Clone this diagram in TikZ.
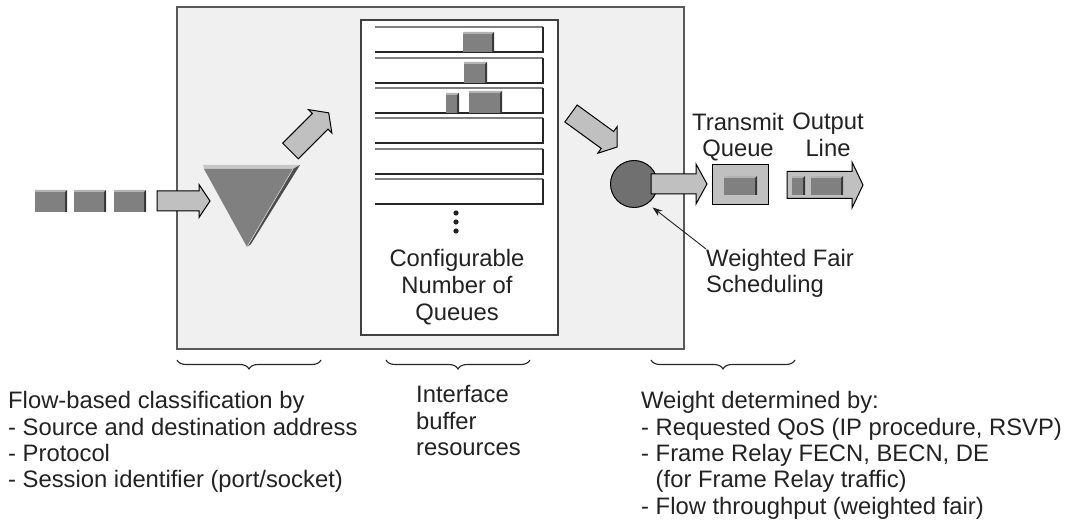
\documentclass[tikz,border=0pt]{standalone}
\usepackage{fontspec}
\setmainfont{Liberation Sans}
\usetikzlibrary{decorations.pathreplacing,arrows.meta}

\definecolor{panel}{HTML}{F0F0F0}
\definecolor{arrowfill}{HTML}{C0C0C0}
\definecolor{pktgray}{HTML}{808080}
\definecolor{pktlight}{HTML}{B4B4B4}
\definecolor{pktdark}{HTML}{3A3A3A}
\definecolor{schedgray}{HTML}{707070}
\definecolor{facelight}{HTML}{C8C8C8}
\definecolor{facedark}{HTML}{4C4C4C}
\definecolor{ink}{HTML}{222222}

\tikzset{
  panelbox/.style={draw=black!65, line width=2, fill=panel},
  queuebox/.style={draw=black!75, line width=1.3, fill=white},
  blockarrow/.style={draw=black, line width=1, fill=arrowfill, line join=miter},
  qtop/.style={draw=black!50, line width=1.3},
  qedge/.style={draw=black!85, line width=1.3},
  txt/.style={font=\fontsize{23.8}{26.3}\selectfont, text=ink, inner sep=0},
  bracket/.style={draw=black!85, line width=1.1, decorate, decoration={brace, amplitude=9}},
}

% a 3-D looking packet: x1 y1 x2 y2
\newcommand\pkt[4]{%
  \fill[pktgray] (#1,#2) rectangle (#3,#4);
  \fill[pktlight] (#1,#2) -- (#3,#2) -- ({#3-2},{#2+2}) -- (#1,{#2+2}) -- cycle;
  \fill[pktdark] (#3,#2) -- (#3,#4) -- ({#3-2},#4) -- ({#3-2},{#2+2}) -- cycle;
}

% block arrow: x y angle length shaft-width head-width head-length
\newcommand\barrow[7]{%
  \begin{scope}[shift={(#1,#2)}, rotate=#3]
    \draw[blockarrow] (0,{-#5/2}) -- ({#4-#7},{-#5/2}) -- ({#4-#7},{-#6/2})
      -- (#4,0) -- ({#4-#7},{#6/2}) -- ({#4-#7},{#5/2}) -- (0,{#5/2}) -- cycle;
  \end{scope}
}

\begin{document}
\begin{tikzpicture}[x=1pt,y=-1pt]
\useasboundingbox (0,0) rectangle (1067,521);

% router panel and buffer area
\draw[panelbox] (177,7) rectangle (684,349);
\draw[queuebox] (361,20) rectangle (558,335);

% queues, open on the left
\foreach \t in {27,58,88,118,149,179} {
  \draw[qtop] (375,\t) -- (543,\t);
  \draw[qedge] (543,\t) -- (543,\t+25) -- (375,\t+25);
}

% packets waiting in the queues
\pkt{463}{32}{494}{52}
\pkt{464}{62}{487}{83}
\pkt{446}{93}{459}{113}
\pkt{469}{91}{502}{113}

% more queues
\foreach \y in {213,222,231} \fill[ink] (456,\y) circle (2.6);

% incoming packets
\pkt{35}{190}{67}{212}
\pkt{74}{190}{106}{212}
\pkt{114}{190}{146}{212}

% arrow into the classifier
\barrow{157}{201}{0}{53}{20}{33}{11}

% classifier (3-D triangle)
\fill[facelight] (203,165) -- (300,165) -- (293,169) -- (204,169) -- cycle;
\fill[pktgray] (204,169) -- (293,169) -- (247,247) -- cycle;
\fill[facedark] (293,169) -- (300,165) -- (251,244) -- (247,247) -- cycle;
\draw[white!85!black, line width=0.6] (293,169) -- (247,247);

% classifier to queues, queues to scheduler
\barrow{290.5}{151}{45}{54}{22}{33}{12}
\barrow{571}{113.5}{-36}{57}{21}{33}{12}

% scheduler
\node[circle, draw=black, line width=1, fill=schedgray, minimum size=47, inner sep=0] (sched) at (634,184) {};
\barrow{651}{184}{0}{56}{20}{40}{11}

% transmit queue
\node[draw=black, line width=1, fill=arrowfill, minimum width=56, minimum height=40, inner sep=0] (txq) at (740,185) {};
\pkt{724}{176}{757}{195}

% output line
\barrow{787}{185}{0}{76}{27}{46}{11}
\pkt{792}{176}{805}{195}
\pkt{811}{176}{843}{195}

% labels
\node[txt, anchor=north, align=center, font=\fontsize{23.8}{26.8}\selectfont] (qlbl) at (457,249) {Configurable\\Number of\\Queues};
\node[txt, anchor=north, align=center] (txlbl) at (738,113) {Transmit\\Queue};
\node[txt, anchor=north, align=center] (outlbl) at (828,113) {Output\\Line};
\node[txt, anchor=north west, align=left] (wfs) at (706,249) {Weighted Fair\\Scheduling};
\draw[ink, line width=0.9, -{Stealth[length=10,width=7]}, shorten >=6] (wfs.north west) -- (sched.-55);

% braces and explanations
\draw[bracket] (321,360) -- (177,360);
\draw[bracket] (530,360) -- (386,360);
\draw[bracket] (795,360) -- (651,360);

\node[txt, anchor=north west, align=left] (cls) at (8,391.5)
  {Flow-based classification by\\- Source and destination address\\- Protocol\\- Session identifier (port/socket)};
\node[txt, anchor=north west, align=left] (buf) at (416,385.5)
  {Interface\\buffer\\resources};
\node[txt, anchor=north west, align=left] (wgt) at (641,391.5)
  {Weight determined by:\\- Requested QoS (IP procedure, RSVP)\\- Frame Relay FECN, BECN, DE\\\hphantom{-\ }(for Frame Relay traffic)\\- Flow throughput (weighted fair)};
\end{tikzpicture}
\end{document}
